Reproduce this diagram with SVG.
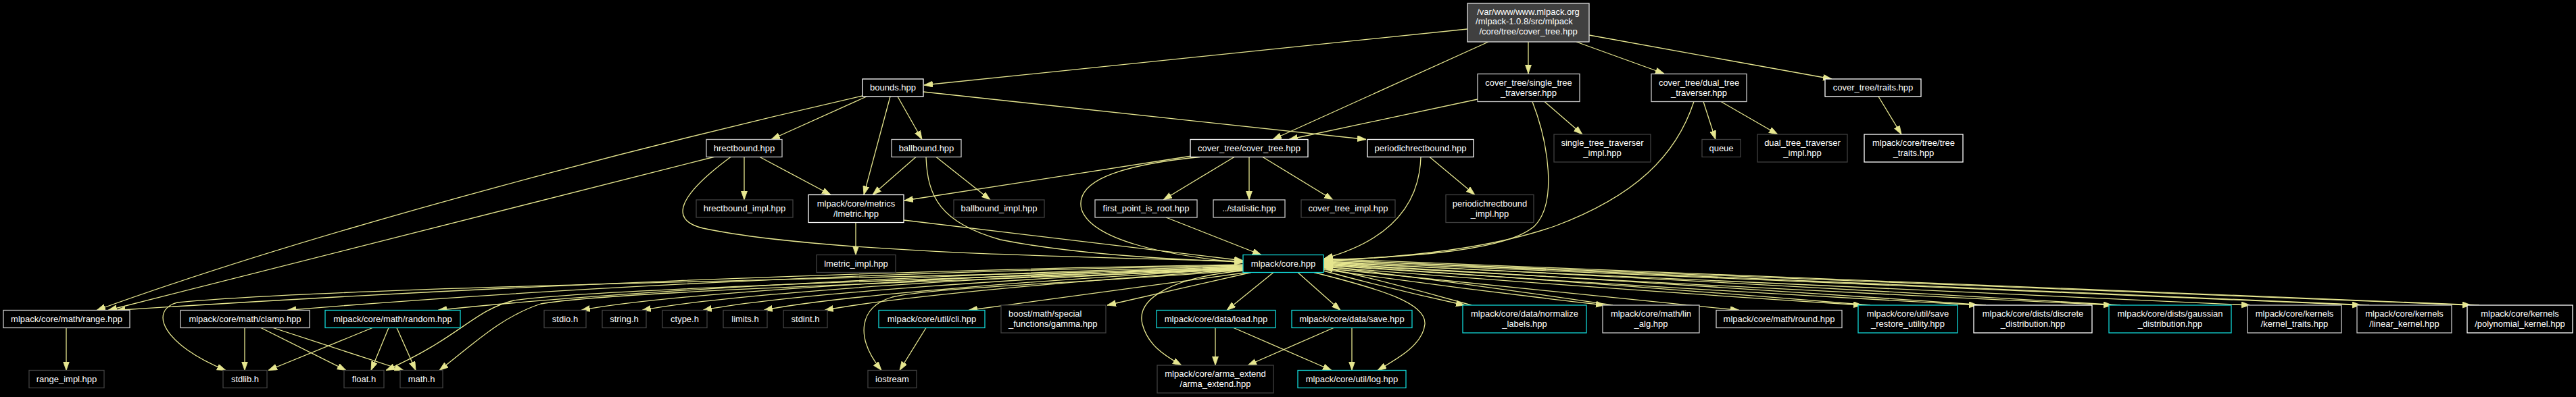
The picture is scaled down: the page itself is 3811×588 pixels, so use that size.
<svg xmlns="http://www.w3.org/2000/svg" width="3811" height="588" viewBox="0 0 3811 588">
<style>
rect.w{fill:#000;stroke:#ffffff;stroke-width:1.3}
rect.g{fill:#000;stroke:#c8c8c8;stroke-width:1.3}
rect.d{fill:#000;stroke:#404040;stroke-width:1.3}
rect.c{fill:#000;stroke:#12d6d6;stroke-width:1.3}
rect.r{fill:#404040;stroke:#e0e0e0;stroke-width:1.3}
text{font-family:"Liberation Sans",Arial,Helvetica,sans-serif;font-size:13px;fill:#ffffff;text-anchor:middle}
text.l{text-anchor:start}
#edges path{fill:none;stroke:#e6e68f;stroke-width:1.3;marker-end:url(#ah)}
</style>
<defs>
<marker id="ah" markerUnits="userSpaceOnUse" markerWidth="15" markerHeight="11" refX="13" refY="4.5" orient="auto">
<path d="M0,0 L13,4.5 L0,9 Z" fill="#e6e68f" stroke="#e6e68f" stroke-width="0.8"/>
</marker>
</defs>
<rect x="0" y="0" width="3811" height="588" fill="#000"/>
<g id="edges">
<path d="M2171,43 L1367,126"/>
<path d="M2202,62 L1883,206.5"/>
<path d="M2261,62 L2261,109"/>
<path d="M2332,62 L2462,109"/>
<path d="M2351,52 L2710,117"/>
<path d="M1282,143 L1141,206.5"/>
<path d="M1276,142 C1000,205 500,330 143,459.5"/>
<path d="M1058,232 L160,459.5"/>
<path d="M1317,143 L1278,288.5"/>
<path d="M1328,143 L1364,206.5"/>
<path d="M1366,136 L2021,206.5"/>
<path d="M1101,232.5 L1101,296"/>
<path d="M1124,232.5 L1229,288.5"/>
<path d="M1081,232.5 C1010,285 985,325 1040,338 C1200,372 1550,380 1839,387"/>
<path d="M1355,232.5 L1291,288.5"/>
<path d="M1385,232.5 L1465,296"/>
<path d="M1370,232.5 C1372,290 1390,330 1480,355 C1580,375 1720,384 1839,388"/>
<path d="M1763,231 L1338,297"/>
<path d="M1775,232.5 C1650,245 1590,270 1600,310 C1615,355 1720,378 1839,389"/>
<path d="M1826,232.5 L1721,296"/>
<path d="M1848,232.5 L1848,296"/>
<path d="M1868,232.5 L1972,296"/>
<path d="M1725,322 L1866,377.5"/>
<path d="M1266,329.5 L1266,377.5"/>
<path d="M1337,326 L1839,386"/>
<path d="M2115,232.5 L2182,288.5"/>
<path d="M2102,232.5 C2100,300 2060,355 1959,383"/>
<path d="M2186,147 L1907,206.5"/>
<path d="M2285,150.5 L2341,199"/>
<path d="M2267,150.5 C2290,210 2305,300 2270,335 C2230,370 2100,380 1959,385"/>
<path d="M2520,150.5 L2538,206.5"/>
<path d="M2546,150.5 L2630,199"/>
<path d="M2506,150.5 C2480,230 2420,290 2300,335 C2200,370 2060,382 1959,386"/>
<path d="M2779,143 L2813,199"/>
<path d="M1839,392 C1300,400 700,425 172,459.5"/>
<path d="M1839,393 C1300,402 800,428 425,459.5"/>
<path d="M1839,394 C1400,405 900,432 648,459.5"/>
<path d="M1839,395 C1500,405 1000,432 860,459.5"/>
<path d="M1839,396 C1500,408 1080,434 950,459.5"/>
<path d="M1839,397 C1550,410 1160,435 1040,459.5"/>
<path d="M1839,398 C1580,412 1240,437 1130,459.5"/>
<path d="M1839,399 C1600,415 1320,440 1220,459.5"/>
<path d="M1839,397 C1300,412 500,425 262,448 C220,460 240,510 334,548.5"/>
<path d="M1839,398 C1400,412 850,430 760,445 C700,460 680,500 571,548.5"/>
<path d="M1839,399 C1400,416 900,432 800,450 C740,470 700,510 650,548.5"/>
<path d="M1839,400 C1600,420 1380,425 1320,440 C1270,455 1265,500 1304,548.5"/>
<path d="M1845,403.5 L1433,459.5"/>
<path d="M1851,403.5 L1638,452"/>
<path d="M1884,403.5 L1815,459.5"/>
<path d="M1839,401 C1740,410 1680,440 1690,480 C1698,510 1720,525 1748,541"/>
<path d="M1920,403.5 L1983,459.5"/>
<path d="M1944,403.5 C2050,430 2110,450 2108,480 C2105,510 2070,530 2038,548.5"/>
<path d="M1798,485.5 L1798,541"/>
<path d="M1825,485.5 L1970,548.5"/>
<path d="M2000,485.5 L2000,548.5"/>
<path d="M1973,485.5 L1846,541"/>
<path d="M1370,485.5 L1331,548.5"/>
<path d="M98,485.5 L98,548.5"/>
<path d="M362,485.5 L362,548.5"/>
<path d="M386,485.5 L512,548.5"/>
<path d="M404,485.5 L597,548.5"/>
<path d="M551,485.5 L397,548.5"/>
<path d="M575,485.5 L549,548.5"/>
<path d="M587,485.5 L615,548.5"/>
<path d="M1958,401 Q2062.5,429.5 2167,452"/>
<path d="M2177,452 Q2068,421 1959,396"/>
<path d="M1958,399 Q2166,428.5 2374,452"/>
<path d="M2386,452 Q2172.5,420 1959,394"/>
<path d="M1958,397 L2573,459.5"/>
<path d="M1958,395 Q2356.5,426.5 2755,452"/>
<path d="M2767,452 Q2363,419 1959,392"/>
<path d="M1958,393 Q2442,425.5 2926,452"/>
<path d="M2938,452 Q2448.5,418 1959,390"/>
<path d="M1958,391 Q2541.5,424.5 3125,452"/>
<path d="M3137,452 Q2548,417 1959,388"/>
<path d="M1958,389 L3329,452"/>
<path d="M1958,387 Q2725.5,422.5 3493,452"/>
<path d="M3505,452 Q2732,415.5 1959,385"/>
<path d="M1958,385 Q2807,421.5 3656,452"/>
<path d="M3668,452 Q2813.5,414.5 1959,383"/>
</g>
<g id="n_root"><rect class="r" x="2171" y="5" width="180" height="57"/><text x="2261" y="21.5">/var/www/www.mlpack.org</text><text x="2255" y="36">/mlpack-1.0.8/src/mlpack</text><text x="2261" y="50.5">/core/tree/cover_tree.hpp</text></g>
<g id="n_bounds"><rect class="w" x="1276" y="117" width="90" height="26"/><text x="1321" y="134">bounds.hpp</text></g>
<g id="n_single_tree"><rect class="g" x="2186" y="109.5" width="151" height="41"/><text x="2261.5" y="126.5">cover_tree/single_tree</text><text x="2261.5" y="141.5">_traverser.hpp</text></g>
<g id="n_dual_tree"><rect class="g" x="2443" y="109.5" width="141" height="41"/><text x="2513.5" y="126.5">cover_tree/dual_tree</text><text x="2513.5" y="141.5">_traverser.hpp</text></g>
<g id="n_traits"><rect class="w" x="2700" y="117" width="142" height="26"/><text x="2771" y="134">cover_tree/traits.hpp</text></g>
<g id="n_hrectbound"><rect class="g" x="1045" y="206.5" width="112" height="26"/><text x="1101" y="223.5">hrectbound.hpp</text></g>
<g id="n_ballbound"><rect class="g" x="1319" y="206.5" width="103" height="26"/><text x="1370.5" y="223.5">ballbound.hpp</text></g>
<g id="n_cover_tree"><rect class="w" x="1761" y="206.5" width="174" height="26"/><text x="1848" y="223.5">cover_tree/cover_tree.hpp</text></g>
<g id="n_periodic"><rect class="w" x="2023" y="206.5" width="157" height="26"/><text x="2101.5" y="223.5">periodichrectbound.hpp</text></g>
<g id="n_single_impl"><rect class="d" x="2299" y="199" width="143" height="41"/><text x="2370.5" y="216">single_tree_traverser</text><text x="2370.5" y="231">_impl.hpp</text></g>
<g id="n_queue"><rect class="d" x="2518" y="206.5" width="57" height="26"/><text x="2546.5" y="223.5">queue</text></g>
<g id="n_dual_impl"><rect class="d" x="2600" y="199" width="133" height="41"/><text x="2666.5" y="216">dual_tree_traverser</text><text x="2666.5" y="231">_impl.hpp</text></g>
<g id="n_tree_traits"><rect class="w" x="2758" y="199" width="146" height="41"/><text x="2831" y="216">mlpack/core/tree/tree</text><text x="2831" y="231">_traits.hpp</text></g>
<g id="n_hrect_impl"><rect class="d" x="1030" y="296" width="143" height="26"/><text x="1101.5" y="313">hrectbound_impl.hpp</text></g>
<g id="n_metric"><rect class="w" x="1196" y="288.5" width="141" height="41"/><text x="1266.5" y="305.5">mlpack/core/metrics</text><text x="1266.5" y="320.5">/lmetric.hpp</text></g>
<g id="n_ball_impl"><rect class="d" x="1411" y="296" width="134" height="26"/><text x="1478" y="313">ballbound_impl.hpp</text></g>
<g id="n_first_point"><rect class="g" x="1620" y="296" width="151" height="26"/><text x="1695.5" y="313">first_point_is_root.hpp</text></g>
<g id="n_statistic"><rect class="g" x="1795" y="296" width="106" height="26"/><text x="1848" y="313">../statistic.hpp</text></g>
<g id="n_cover_impl"><rect class="d" x="1925" y="296" width="139" height="26"/><text x="1994.5" y="313">cover_tree_impl.hpp</text></g>
<g id="n_periodic_impl"><rect class="d" x="2139" y="288.5" width="130" height="41"/><text x="2204" y="305.5">periodichrectbound</text><text x="2204" y="320.5">_impl.hpp</text></g>
<g id="n_lmetric_impl"><rect class="d" x="1208" y="377.5" width="117" height="26"/><text x="1266.5" y="394.5">lmetric_impl.hpp</text></g>
<g id="n_core"><rect class="c" x="1839" y="377.5" width="119" height="26"/><text x="1898.5" y="394.5">mlpack/core.hpp</text></g>
<g id="n_range"><rect class="g" x="5" y="459.5" width="187" height="26"/><text x="98.5" y="476.5">mlpack/core/math/range.hpp</text></g>
<g id="n_clamp"><rect class="g" x="267" y="459.5" width="191" height="26"/><text x="362.5" y="476.5">mlpack/core/math/clamp.hpp</text></g>
<g id="n_random"><rect class="c" x="481" y="459.5" width="200" height="26"/><text x="581" y="476.5">mlpack/core/math/random.hpp</text></g>
<g id="n_stdio"><rect class="d" x="805" y="459.5" width="62" height="26"/><text x="836" y="476.5">stdio.h</text></g>
<g id="n_string"><rect class="d" x="891" y="459.5" width="65" height="26"/><text x="923.5" y="476.5">string.h</text></g>
<g id="n_ctype"><rect class="d" x="980" y="459.5" width="66" height="26"/><text x="1013" y="476.5">ctype.h</text></g>
<g id="n_limits"><rect class="d" x="1070" y="459.5" width="65" height="26"/><text x="1102.5" y="476.5">limits.h</text></g>
<g id="n_stdint"><rect class="d" x="1159" y="459.5" width="65" height="26"/><text x="1191.5" y="476.5">stdint.h</text></g>
<g id="n_cli"><rect class="c" x="1300" y="459.5" width="157" height="26"/><text x="1378.5" y="476.5">mlpack/core/util/cli.hpp</text></g>
<g id="n_gamma"><rect class="d" x="1481" y="452" width="155" height="41"/><text class="l" x="1492" y="469">boost/math/special</text><text class="l" x="1492" y="484">_functions/gamma.hpp</text></g>
<g id="n_load"><rect class="c" x="1711" y="459.5" width="176" height="26"/><text x="1799" y="476.5">mlpack/core/data/load.hpp</text></g>
<g id="n_save"><rect class="c" x="1911" y="459.5" width="178" height="26"/><text x="2000" y="476.5">mlpack/core/data/save.hpp</text></g>
<g id="n_normalize"><rect class="c" x="2164" y="452" width="183" height="41"/><text x="2255.5" y="469">mlpack/core/data/normalize</text><text x="2255.5" y="484">_labels.hpp</text></g>
<g id="n_lin_alg"><rect class="g" x="2371" y="452" width="143" height="41"/><text x="2442.5" y="469">mlpack/core/math/lin</text><text x="2442.5" y="484">_alg.hpp</text></g>
<g id="n_round"><rect class="g" x="2539" y="459.5" width="186" height="26"/><text x="2632" y="476.5">mlpack/core/math/round.hpp</text></g>
<g id="n_save_restore"><rect class="c" x="2749" y="452" width="147" height="41"/><text x="2822.5" y="469">mlpack/core/util/save</text><text x="2822.5" y="484">_restore_utility.hpp</text></g>
<g id="n_discrete"><rect class="w" x="2920" y="452" width="175" height="41"/><text x="3007.5" y="469">mlpack/core/dists/discrete</text><text x="3007.5" y="484">_distribution.hpp</text></g>
<g id="n_gaussian"><rect class="c" x="3120" y="452" width="181" height="41"/><text x="3210.5" y="469">mlpack/core/dists/gaussian</text><text x="3210.5" y="484">_distribution.hpp</text></g>
<g id="n_kernel_traits"><rect class="g" x="3325" y="452" width="139" height="41"/><text x="3394.5" y="469">mlpack/core/kernels</text><text x="3394.5" y="484">/kernel_traits.hpp</text></g>
<g id="n_linear"><rect class="g" x="3487" y="452" width="140" height="41"/><text x="3557" y="469">mlpack/core/kernels</text><text x="3557" y="484">/linear_kernel.hpp</text></g>
<g id="n_polynomial"><rect class="w" x="3650" y="452" width="156" height="41"/><text x="3728" y="469">mlpack/core/kernels</text><text x="3728" y="484">/polynomial_kernel.hpp</text></g>
<g id="n_range_impl"><rect class="d" x="43" y="548.5" width="111" height="26"/><text x="98.5" y="565.5">range_impl.hpp</text></g>
<g id="n_stdlib"><rect class="d" x="330" y="548.5" width="65" height="26"/><text x="362.5" y="565.5">stdlib.h</text></g>
<g id="n_float"><rect class="d" x="509" y="548.5" width="59" height="26"/><text x="538.5" y="565.5">float.h</text></g>
<g id="n_math"><rect class="d" x="592" y="548.5" width="63" height="26"/><text x="623.5" y="565.5">math.h</text></g>
<g id="n_iostream"><rect class="d" x="1284" y="548.5" width="72" height="26"/><text x="1320" y="565.5">iostream</text></g>
<g id="n_arma"><rect class="d" x="1712" y="541" width="172" height="41"/><text x="1798" y="558">mlpack/core/arma_extend</text><text x="1798" y="573">/arma_extend.hpp</text></g>
<g id="n_log"><rect class="c" x="1920" y="548.5" width="160" height="26"/><text x="2000" y="565.5">mlpack/core/util/log.hpp</text></g>
</svg>
